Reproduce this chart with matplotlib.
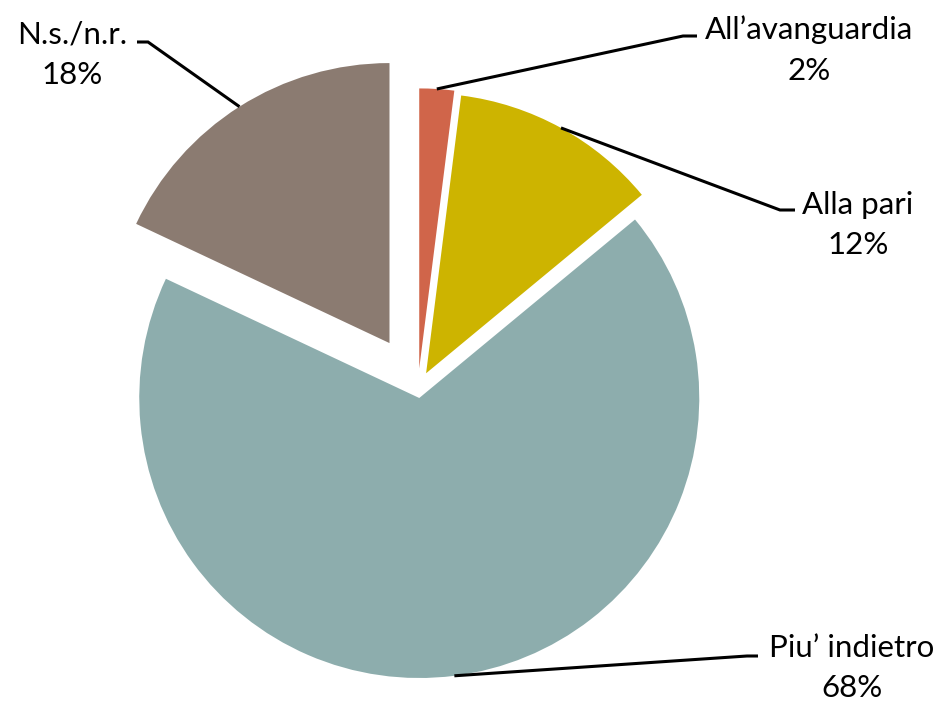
import matplotlib
matplotlib.use('Agg')
import matplotlib.pyplot as plt
import numpy as np

labels = ['All\u2019avanguardia', 'Alla pari', 'Piu\u2019 indietro', 'N.s./n.r.']
values = [2, 12, 68, 18]
colors = ['#D0654A', '#CDB400', '#8DADAD', '#8B7B71']
explode = [0.07, 0.06, 0.036, 0.19]

# pie centre and radius in pixels of the 952x706 figure
CX, CY, R = 418, 388, 280
W, H = 952, 706

def px(x, y):
    return (x - CX) / R, (CY - y) / R

fig = plt.figure(figsize=(9.52, 7.06), dpi=100)
ax = fig.add_axes([0, 0, 1, 1])

wedges, _ = ax.pie(values, colors=colors, explode=explode, startangle=90,
                   counterclock=False, radius=1, center=(0, 0),
                   wedgeprops=dict(linewidth=0))
ax.set_xlim(-CX / R, (W - CX) / R)
ax.set_ylim(-(H - CY) / R, CY / R)
ax.set_aspect('equal')
ax.axis('off')

# elbow of leader, end of short horizontal piece, label centre (pixels)
leaders = [
    ((683, 36), (697, 36), (809, 50)),
    ((780, 210), (795, 210), (858, 225)),
    ((747, 656), (758, 656), (852, 668)),
    ((148, 42), (137, 42), (72, 55)),
]

for w, val, lab, (elb, end, tpos) in zip(wedges, values, labels, leaders):
    mid = np.deg2rad((w.theta1 + w.theta2) / 2)
    cx, cy = w.center
    sx, sy = cx + w.r * np.cos(mid), cy + w.r * np.sin(mid)
    ex, ey = px(*elb)
    hx, hy = px(*end)
    ax.plot([sx, ex, hx], [sy, ey, hy], color='black', lw=2.2,
            solid_capstyle='butt', solid_joinstyle='miter')
    tx, ty = px(*tpos)
    ax.text(tx, ty, lab + '\n' + str(val) + '%', ha='center', va='center',
            fontsize=22.5, family='Lato', linespacing=1.55)

fig.savefig('out.png', dpi=100)
